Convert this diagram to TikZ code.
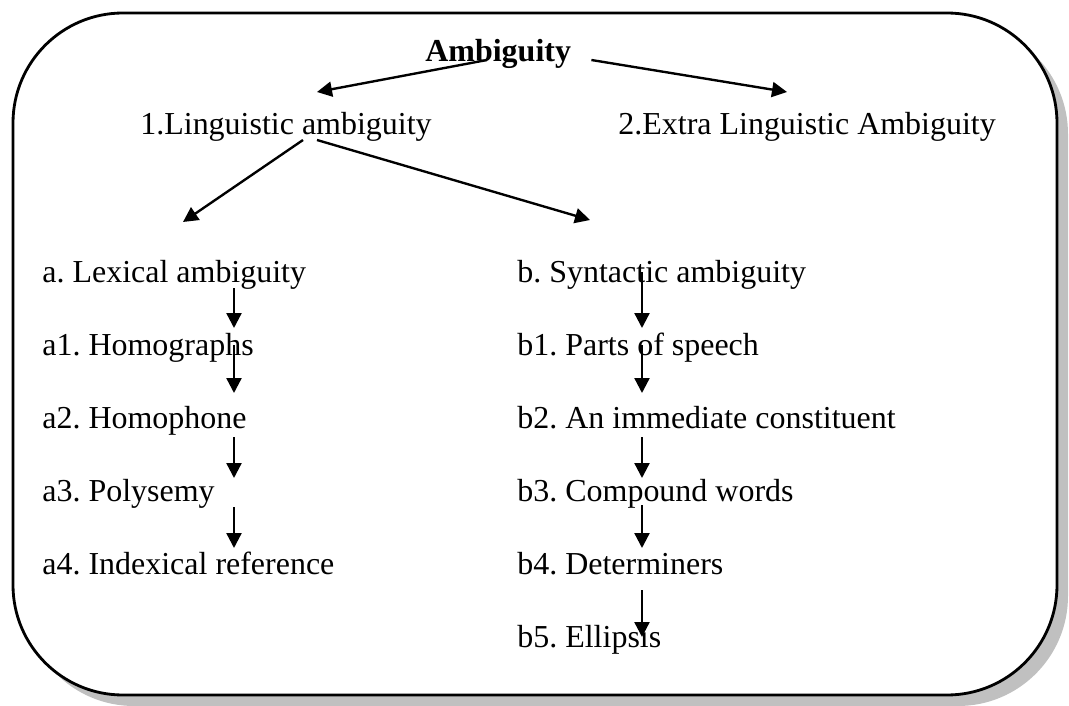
\documentclass[tikz,border=0pt]{standalone}
\usepackage{fontspec}
\setmainfont{Liberation Serif}
\usepackage{tikz}
\usetikzlibrary{calc,arrows.meta}
\definecolor{shadowgray}{RGB}{192,192,192}
\frenchspacing

\begin{document}
\begin{tikzpicture}[x=0.02cm, y=-0.02cm,
    item/.style={anchor=base west, inner sep=0pt, font=\fontsize{18.2}{22}\selectfont},
    flow/.style={-{Triangle[length=0.3cm, width=0.3cm]}, line width=1.35pt}]
    \useasboundingbox (0,0) rectangle (1069,706);

    % frame with shadow
    \fill[shadowgray, rounded corners=2.2cm] (24,24) rectangle (1068,706);
    \draw[fill=white, line width=1.6pt, rounded corners=2.2cm] (13,13) rectangle (1057,695);

    \node [item, font=\fontsize{18.2}{22}\selectfont\bfseries] (amb) at (425,62) {Ambiguity};
    \node [item] (ling) at (140,134) {1.Linguistic ambiguity};
    \node [item] (extra) at (618,134) {2.Extra Linguistic Ambiguity};

    \node [item] (lex) at (42,282) {a. Lexical ambiguity};
    \node [item] (homogr) at (42,355) {a1. Homographs};
    \node [item] (homoph) at (42,428) {a2. Homophone};
    \node [item] (poly) at (42,501) {a3. Polysemy};
    \node [item] (index) at (42,574) {a4. Indexical reference};

    \node [item] (syn) at (517,282) {b. Syntactic ambiguity};
    \node [item] (parts) at (517,355) {b1. Parts of speech};
    \node [item] (immed) at (517,428) {b2. An immediate constituent};
    \node [item] (comp) at (517,501) {b3. Compound words};
    \node [item] (determ) at (517,574) {b4. Determiners};
    \node [item] (ellip) at (517,647) {b5. Ellipsis};

    \coordinate (acol) at (234,0);
    \coordinate (bcol) at (642,0);

    \draw[flow] ($(amb.base west)+(62,-2)$) -- ($(ling.base west)+(177,-42)$);
    \draw[flow] ($(amb.base east)+(20,-2)$) -- ($(extra.base west)+(169,-42)$);
    \draw[flow] ($(ling.base west)+(163,6)$) -- ($(lex.base west)+(141,-60)$);
    \draw[flow] ($(ling.base west)+(177,6)$) -- ($(syn.base west)+(73,-62)$);

    \draw[flow] ($(lex.base -| acol)+(0,6)$) -- ($(homogr.base -| acol)+(0,-27)$);
    \draw[flow] ($(homogr.base -| acol)+(0,-10)$) -- ($(homoph.base -| acol)+(0,-35)$);
    \draw[flow] ($(homoph.base -| acol)+(0,9)$) -- ($(poly.base -| acol)+(0,-23)$);
    \draw[flow] ($(poly.base -| acol)+(0,6)$) -- ($(index.base -| acol)+(0,-26)$);

    \draw[flow] ($(syn.base -| bcol)+(0,-10)$) -- ($(parts.base -| bcol)+(0,-27)$);
    \draw[flow] ($(parts.base -| bcol)+(0,-10)$) -- ($(immed.base -| bcol)+(0,-35)$);
    \draw[flow] ($(immed.base -| bcol)+(0,9)$) -- ($(comp.base -| bcol)+(0,-23)$);
    \draw[flow] ($(comp.base -| bcol)+(0,4)$) -- ($(determ.base -| bcol)+(0,-26)$);
    \draw[flow] ($(determ.base -| bcol)+(0,16)$) -- ($(ellip.base -| bcol)+(0,-10)$);

\end{tikzpicture}
\end{document}
